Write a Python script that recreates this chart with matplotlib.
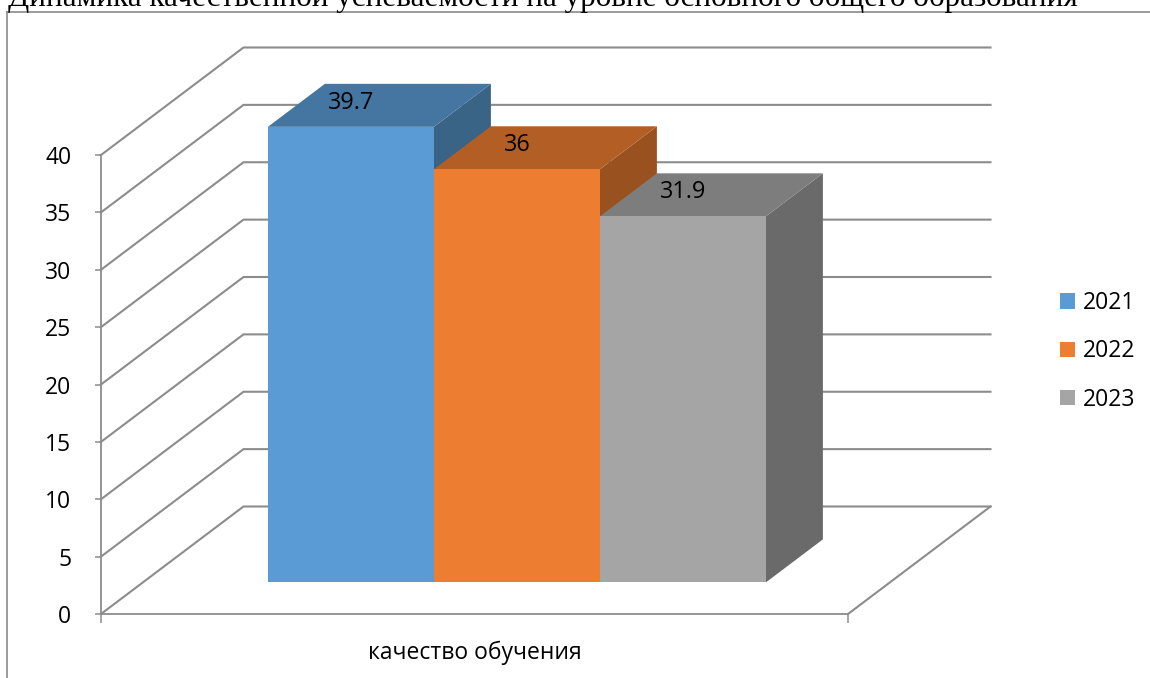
import matplotlib
matplotlib.use("Agg")
import matplotlib.pyplot as plt
from matplotlib.patches import Patch

# --- data ---
title = "Динамика качественной успеваемости на уровне основного общего образования"
category = "качество обучения"
years = ["2021", "2022", "2023"]
values = [39.7, 36, 31.9]
value_labels = ["39.7", "36", "31.9"]
y_ticks = [0, 5, 10, 15, 20, 25, 30, 35, 40]

# --- style ---
front_colors = ["#5B9BD5", "#ED7D31", "#A5A5A5"]
top_colors = ["#4575A1", "#B25E24", "#7D7D7D"]
side_colors = ["#3A6486", "#9A5120", "#6A6A6A"]
line_color = "#8C8C8C"
font = "Open Sans"

W, H = 1150, 678
fig = plt.figure(figsize=(W / 100, H / 100), dpi=100, facecolor="white")

# page frame and clipped title
fig.add_artist(plt.Line2D([7 / W, 7 / W], [0, 1 - 12 / H], color="#8A8A8A", lw=1.2))
fig.add_artist(plt.Line2D([7 / W, 1], [1 - 12 / H, 1 - 12 / H], color="#8A8A8A", lw=1.2))
fig.text(8 / W, 1 - 6 / H, title, family="Liberation Serif", fontsize=22.4,
         ha="left", va="baseline", color="black")

# front plane of the 3-D box
ax = fig.add_axes([101 / W, (H - 614) / H, 747 / W, 459 / H])
ax.set_xlim(0, 1)
ax.set_ylim(0, 40)
ax.patch.set_alpha(0)
for s in ("top", "right"):
    ax.spines[s].set_visible(False)
for s in ("left", "bottom"):
    ax.spines[s].set_color(line_color)
    ax.spines[s].set_linewidth(1.3)

depth_x = 142.5 / 747
depth_y = 107.5 * 40 / 459


def project(x, v, d):
    return x + d * depth_x, v + d * depth_y


# wall gridlines
for t in y_ticks:
    xa, ya = project(0, t, 0)
    xb, yb = project(0, t, 1)
    xc, yc = project(1, t, 1)
    ax.plot([xa, xb, xc], [ya, yb, yc], color=line_color, lw=1.5, clip_on=False,
            zorder=1, solid_joinstyle="miter")
# floor right edge
xa, ya = project(1, 0, 0)
xb, yb = project(1, 0, 1)
ax.plot([xa, xb], [ya, yb], color=line_color, lw=1.5, clip_on=False, zorder=1)

# bars
bar_left = 125 / 747
bar_width = 166 / 747
d0, d1 = 0.294, 0.694
for i, (val, lab) in enumerate(zip(values, value_labels)):
    x0 = bar_left + i * bar_width
    x1 = x0 + bar_width
    z = 3 + i
    corners_front = [project(x0, 0, d0), project(x1, 0, d0), project(x1, val, d0), project(x0, val, d0)]
    corners_side = [project(x1, 0, d0), project(x1, 0, d1), project(x1, val, d1), project(x1, val, d0)]
    corners_top = [project(x0, val, d0), project(x1, val, d0), project(x1, val, d1), project(x0, val, d1)]
    for pts, col in ((corners_side, side_colors[i]), (corners_top, top_colors[i]), (corners_front, front_colors[i])):
        ax.fill(*zip(*pts), color=col, lw=0, clip_on=False, zorder=z)
    cx, cy = project((x0 + x1) / 2, val, d0)
    ax.annotate(lab, (cx, cy), xytext=(0, 17.5), textcoords="offset points", ha="center",
                va="center", family=font, fontsize=16.8, color="black", zorder=10,
                annotation_clip=False)

# axes ticks
ax.set_yticks(y_ticks)
ax.tick_params(axis="y", length=4.5, width=1.1, color=line_color, pad=17, labelsize=16.5)
ax.set_xticks([0, 1])
ax.set_xticklabels(["", ""])
ax.tick_params(axis="x", length=6.5, width=1.1, color=line_color)
ax.set_xticks([0.5], [category], minor=True)
ax.tick_params(axis="x", which="minor", length=0, pad=19, labelsize=16.5)
for lbl in ax.get_yticklabels() + ax.get_xticklabels(minor=True):
    lbl.set_family(font)

# legend
handles = [Patch(facecolor=c, edgecolor="none", label=y) for c, y in zip(front_colors, years)]
fig.legend(handles=handles, loc="upper left", bbox_to_anchor=(1060 / W, 1 - 291 / H),
           frameon=False, prop={"family": font, "size": 16.5}, handlelength=0.65,
           handleheight=0.65, handletextpad=0.35, labelspacing=1.06, borderpad=0, borderaxespad=0)

fig.savefig("out.png", dpi=100)
